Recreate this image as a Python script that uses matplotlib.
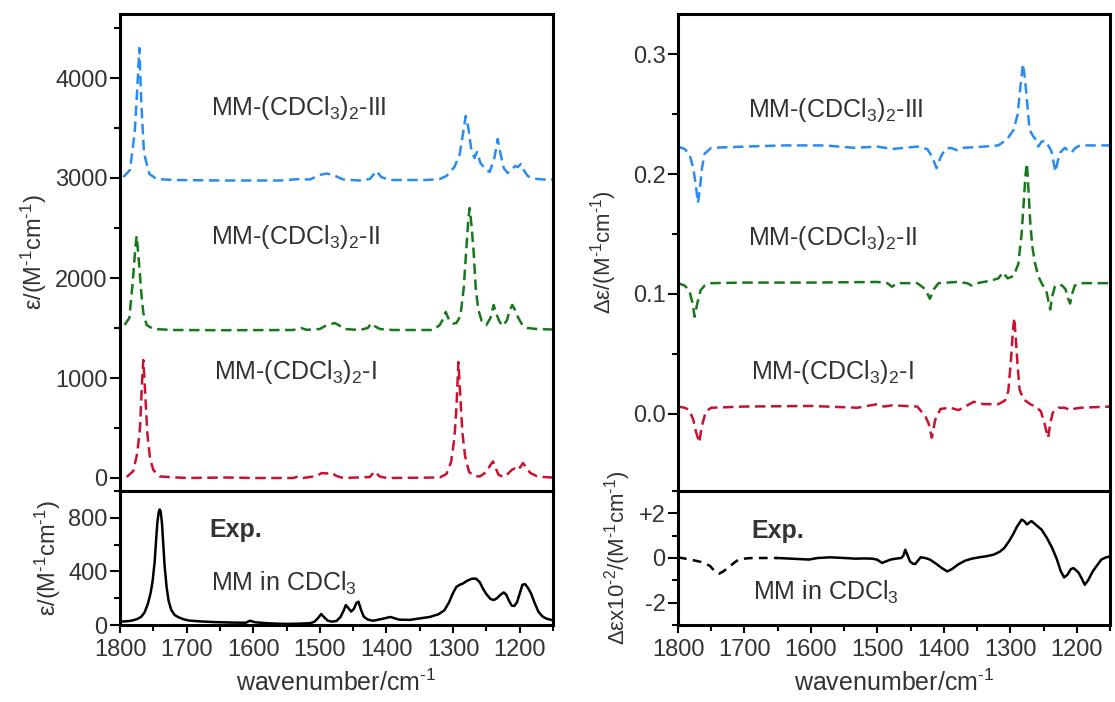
import matplotlib
matplotlib.use('Agg')
import matplotlib.pyplot as plt
from matplotlib.ticker import MultipleLocator, FixedLocator, FixedFormatter

plt.rcParams['font.family'] = ['Liberation Sans', 'DejaVu Sans']
plt.rcParams['mathtext.fontset'] = 'custom'
plt.rcParams['mathtext.rm'] = 'Liberation Sans'
plt.rcParams['mathtext.it'] = 'Liberation Sans:italic'
plt.rcParams['mathtext.bf'] = 'Liberation Sans:bold'

# ---- calculated IR spectra (offset traces, M^-1 cm^-1) ----
ir3_wn = [1795, 1785, 1778, 1774, 1771, 1768, 1764, 1756, 1745, 1720, 1650, 1560,
          1530, 1515, 1500, 1490, 1480, 1465, 1440, 1425, 1415, 1408, 1395, 1340,
          1320, 1310, 1298, 1290, 1285, 1281, 1277, 1273, 1268, 1264, 1259, 1250,
          1245, 1238, 1233, 1229, 1224, 1218, 1212, 1207, 1203, 1198, 1194, 1188,
          1180, 1165, 1150]
ir3 = [3010, 3080, 3450, 3900, 4300, 3750, 3250, 3040, 2990, 2980, 2975, 2975,
       2990, 2985, 3030, 3045, 3030, 2985, 2975, 2990, 3070, 3010, 2980, 2980,
       2990, 3020, 3110, 3240, 3450, 3620, 3500, 3300, 3200, 3260, 3150, 3080,
       3060, 3200, 3390, 3250, 3100, 3050, 3080, 3120, 3110, 3140, 3080, 3020,
       2995, 2985, 2985]

ir2_wn = [1793, 1786, 1781, 1777, 1775, 1772, 1768, 1765, 1760, 1750, 1720, 1650,
          1540, 1528, 1520, 1500, 1492, 1478, 1472, 1463, 1440, 1428, 1423, 1418,
          1410, 1390, 1330, 1320, 1315, 1311, 1306, 1300, 1295, 1289, 1284, 1280,
          1277, 1275, 1272, 1269, 1266, 1262, 1257, 1250, 1244, 1239, 1235, 1230,
          1225, 1219, 1215, 1211, 1207, 1202, 1196, 1188, 1175, 1150]
ir2 = [1530, 1600, 1950, 2300, 2420, 2200, 1850, 1650, 1530, 1490, 1480, 1478,
       1480, 1500, 1482, 1490, 1520, 1550, 1530, 1490, 1480, 1500, 1545, 1520,
       1490, 1480, 1480, 1530, 1590, 1660, 1580, 1545, 1550, 1620, 1900, 2300,
       2600, 2700, 2500, 2250, 1900, 1680, 1570, 1530, 1600, 1730, 1640, 1560,
       1520, 1580, 1680, 1730, 1680, 1600, 1530, 1500, 1490, 1485]

ir1_wn = [1790, 1780, 1774, 1770, 1767, 1765, 1763, 1759, 1755, 1750, 1740, 1700,
          1640, 1600, 1540, 1533, 1525, 1505, 1497, 1490, 1483, 1475, 1465, 1425,
          1418, 1410, 1400, 1320, 1310, 1303, 1298, 1295, 1292, 1289, 1286, 1282,
          1276, 1268, 1260, 1250, 1244, 1240, 1236, 1232, 1225, 1218, 1212, 1208,
          1204, 1199, 1195, 1190, 1184, 1175, 1165, 1150]
ir1 = [10, 70, 250, 500, 950, 1180, 950, 450, 200, 80, 15, 0,
       5, 0, 0, 15, 0, 20, 50, 45, 55, 20, 0, 10,
       65, 15, 0, 5, 40, 160, 400, 700, 1160, 800, 450, 220,
       60, 20, 15, 60, 130, 165, 100, 35, 10, 40, 80, 95,
       75, 110, 150, 100, 50, 20, 10, 5]

# ---- calculated VCD spectra (offset traces) ----
vcd3_wn = [1800, 1790, 1783, 1777, 1773, 1770, 1767, 1764, 1760, 1750, 1700, 1640,
           1580, 1535, 1500, 1478, 1440, 1425, 1418, 1411, 1405, 1398, 1390, 1380,
           1370, 1340, 1318, 1305, 1295, 1289, 1285, 1281, 1278, 1275, 1271, 1266,
           1262, 1258, 1253, 1248, 1243, 1238, 1235, 1232, 1229, 1225, 1218, 1212,
           1208, 1202, 1195, 1180, 1150]
vcd3 = [0.223, 0.221, 0.217, 0.205, 0.190, 0.176, 0.188, 0.205, 0.217, 0.222, 0.223, 0.224,
        0.224, 0.222, 0.223, 0.221, 0.223, 0.221, 0.215, 0.205, 0.214, 0.221, 0.222, 0.220,
        0.222, 0.223, 0.224, 0.229, 0.237, 0.250, 0.272, 0.292, 0.280, 0.262, 0.237, 0.232,
        0.229, 0.223, 0.227, 0.228, 0.224, 0.219, 0.210, 0.202, 0.210, 0.218, 0.222, 0.219,
        0.218, 0.222, 0.224, 0.224, 0.224]

vcd2_wn = [1800, 1790, 1783, 1778, 1775, 1771, 1766, 1760, 1750, 1700, 1600, 1500,
           1485, 1478, 1470, 1440, 1428, 1421, 1415, 1408, 1380, 1365, 1358, 1350,
           1330, 1318, 1311, 1304, 1295, 1288, 1283, 1280, 1277, 1275, 1273, 1270,
           1267, 1263, 1258, 1252, 1246, 1243, 1240, 1237, 1233, 1228, 1222, 1217,
           1213, 1210, 1207, 1203, 1195, 1150]
vcd2 = [0.109, 0.107, 0.103, 0.092, 0.081, 0.092, 0.103, 0.107, 0.109, 0.1095, 0.1095, 0.110,
        0.109, 0.106, 0.109, 0.109, 0.104, 0.096, 0.104, 0.109, 0.110, 0.109, 0.107, 0.109,
        0.111, 0.113, 0.118, 0.113, 0.115, 0.125, 0.150, 0.175, 0.200, 0.209, 0.190, 0.160,
        0.140, 0.126, 0.115, 0.108, 0.103, 0.095, 0.087, 0.098, 0.106, 0.108, 0.107, 0.104,
        0.096, 0.092, 0.100, 0.107, 0.109, 0.109]

vcd1_wn = [1800, 1790, 1783, 1777, 1773, 1768, 1764, 1758, 1750, 1700, 1600, 1530,
           1500, 1490, 1478, 1440, 1428, 1423, 1418, 1413, 1405, 1390, 1378, 1368,
           1355, 1340, 1318, 1308, 1303, 1299, 1296, 1294, 1292, 1289, 1286, 1280,
           1270, 1262, 1254, 1249, 1246, 1243, 1240, 1236, 1228, 1218, 1210, 1205,
           1195, 1150]
vcd1 = [0.006, 0.005, 0.003, -0.005, -0.015, -0.024, -0.010, 0.002, 0.005, 0.006, 0.0065, 0.005,
        0.008, 0.006, 0.007, 0.006, -0.002, -0.008, -0.020, -0.005, 0.004, 0.005, 0.003, 0.006,
        0.010, 0.008, 0.008, 0.011, 0.019, 0.045, 0.070, 0.080, 0.065, 0.040, 0.020, 0.012,
        0.008, 0.006, 0.002, -0.007, -0.014, -0.020, -0.008, 0.001, 0.005, 0.005, 0.003, 0.004,
        0.005, 0.006]

# ---- experimental spectra, MM in CDCl3 ----
exp_ir_wn = [1800, 1790, 1782, 1774, 1768, 1763, 1758, 1754, 1751, 1748, 1746, 1744,
             1742, 1740.5, 1739, 1737, 1735, 1733, 1730, 1727, 1723, 1718, 1712, 1704,
             1696, 1680, 1659, 1630, 1611, 1605, 1597, 1575, 1552, 1530, 1514, 1508,
             1503, 1498, 1493, 1488, 1482, 1475, 1469, 1464, 1461, 1457, 1453, 1449,
             1445, 1442, 1438, 1434, 1428, 1420, 1407, 1394, 1381, 1365, 1349, 1335,
             1322, 1313, 1306, 1300, 1295, 1290, 1285, 1279, 1272, 1266, 1260, 1255,
             1250, 1244, 1239, 1234, 1229, 1224, 1220, 1216, 1212, 1208, 1204, 1199,
             1196, 1192, 1188, 1183, 1178, 1172, 1166, 1161, 1156, 1151]
exp_ir = [25, 28, 33, 45, 62, 95, 161, 240, 330, 470, 620, 760,
          840, 862, 850, 760, 600, 440, 280, 180, 112, 75, 57, 42,
          33, 27, 22, 18, 17, 32, 20, 12, 8, 10, 14, 25,
          50, 82, 55, 32, 25, 30, 60, 110, 149, 125, 100, 120,
          165, 174, 110, 62, 40, 32, 45, 60, 40, 38, 50, 60,
          80, 110, 170, 240, 285, 300, 310, 330, 345, 347, 320, 270,
          230, 195, 186, 200, 225, 243, 225, 180, 145, 142, 170, 250,
          300, 305, 280, 236, 170, 100, 65, 50, 42, 37]

# region below 1650 cm-1 is reliable (solid), above it is drawn dashed
exp_vcd_wn_dash = [1800, 1781, 1765, 1752, 1744, 1738, 1733, 1725, 1717, 1709, 1698, 1688, 1651]
exp_vcd_dash = [0.03, -0.07, -0.18, -0.35, -0.62, -0.70, -0.62, -0.45, -0.25, -0.07, -0.02, 0.0, 0.0]
exp_vcd_wn = [1651, 1629, 1603, 1590, 1571, 1550, 1533, 1520, 1507, 1500, 1493, 1487,
              1480, 1470, 1464, 1461, 1458, 1455, 1451, 1447, 1443, 1439, 1435, 1428,
              1421, 1412, 1403, 1395, 1388, 1378, 1368, 1358, 1347, 1336, 1325, 1316,
              1309, 1302, 1296, 1290, 1283, 1279, 1275, 1271, 1268, 1262, 1253, 1245,
              1237, 1230, 1224, 1219, 1214, 1209, 1205, 1201, 1197, 1192, 1188, 1183,
              1176, 1170, 1163, 1156, 1149]
exp_vcd = [0.0, -0.03, -0.07, 0.0, 0.03, 0.0, -0.03, -0.02, -0.03, -0.08, -0.22, -0.15,
           -0.07, -0.02, 0.0, 0.1, 0.37, 0.15, -0.15, -0.25, -0.27, -0.12, 0.03, 0.0,
           -0.07, -0.25, -0.45, -0.60, -0.50, -0.28, -0.12, -0.03, 0.03, 0.08, 0.15, 0.28,
           0.45, 0.75, 1.05, 1.40, 1.72, 1.65, 1.50, 1.60, 1.65, 1.50, 1.27, 0.90,
           0.45, -0.05, -0.60, -0.87, -0.75, -0.50, -0.45, -0.55, -0.67, -0.95, -1.20, -1.00,
           -0.60, -0.35, -0.07, 0.03, 0.07]

BLUE = '#2a8cf0'
GREEN = '#17781a'
RED = '#c81230'
TXT = '#333333'
DASH = (0, (4.2, 2.2))
LW = 1.8

W, H = 1115, 702
fig = plt.figure(figsize=(W / 100, H / 100), dpi=100)


def rect(x0, x1, ytop, ybot):
    return [x0 / W, 1 - ybot / H, (x1 - x0) / W, (ybot - ytop) / H]


ax_ir = fig.add_axes(rect(120, 553, 14, 491))
ax_exp_ir = fig.add_axes(rect(120, 553, 491, 625))
ax_vcd = fig.add_axes(rect(678, 1110, 14, 491))
ax_exp_vcd = fig.add_axes(rect(678, 1110, 491, 625))

inv_cm = r'$^{\text{-}1}$'

for ax in (ax_ir, ax_exp_ir, ax_vcd, ax_exp_vcd):
    ax.set_xlim(1800, 1150)
    for s in ax.spines.values():
        s.set_linewidth(2.2)
    ax.xaxis.set_major_locator(MultipleLocator(100))
    ax.xaxis.set_minor_locator(MultipleLocator(50))
    ax.tick_params(axis='both', which='both', width=1.5, colors='black',
                   labelcolor=TXT, labelsize=17)
    ax.tick_params(axis='y', which='major', direction='out', length=7, pad=2)
    ax.tick_params(axis='y', which='minor', direction='out', length=4)

for ax in (ax_ir, ax_vcd):
    ax.tick_params(axis='x', which='both', direction='out', length=3.5,
                   labelbottom=False)
for ax in (ax_exp_ir, ax_exp_vcd):
    ax.tick_params(axis='x', which='major', direction='out', length=6, pad=4)
    ax.tick_params(axis='x', which='minor', direction='out', length=4)
    ax.set_xlabel('wavenumber/cm' + inv_cm, fontsize=18, color=TXT, labelpad=6)

# IR, calculated
ax_ir.plot(ir3_wn, ir3, color=BLUE, lw=LW, ls=DASH)
ax_ir.plot(ir2_wn, ir2, color=GREEN, lw=LW, ls=DASH)
ax_ir.plot(ir1_wn, ir1, color=RED, lw=LW, ls=DASH)
ax_ir.set_ylim(-130, 4640)
ax_ir.yaxis.set_major_locator(MultipleLocator(1000))
ax_ir.yaxis.set_minor_locator(MultipleLocator(500))
ax_ir.set_ylabel('ε/(M' + inv_cm + 'cm' + inv_cm + ')', fontsize=17, color=TXT,
                 labelpad=4)

lbl = dict(fontsize=18, color=TXT, ha='left', va='center')
ax_ir.text(1663, 3700, 'MM-(CDCl$_3$)$_2$-III', **lbl)
ax_ir.text(1663, 2410, 'MM-(CDCl$_3$)$_2$-II', **lbl)
ax_ir.text(1659, 1060, 'MM-(CDCl$_3$)$_2$-I', **lbl)

# IR, experimental
ax_exp_ir.plot(exp_ir_wn, exp_ir, color='black', lw=LW)
ax_exp_ir.set_ylim(0, 1000)
ax_exp_ir.yaxis.set_major_locator(MultipleLocator(400))
ax_exp_ir.yaxis.set_minor_locator(MultipleLocator(200))
ax_exp_ir.set_ylabel('ε/(M' + inv_cm + 'cm' + inv_cm + ')', fontsize=17, color=TXT,
                     labelpad=4)
ax_exp_ir.text(1666, 709, 'Exp.', fontsize=18, fontweight='bold', color=TXT,
               ha='left', va='center')
ax_exp_ir.text(1663, 313, 'MM in CDCl$_3$', **lbl)

# VCD, calculated
ax_vcd.plot(vcd3_wn, vcd3, color=BLUE, lw=LW, ls=DASH)
ax_vcd.plot(vcd2_wn, vcd2, color=GREEN, lw=LW, ls=DASH)
ax_vcd.plot(vcd1_wn, vcd1, color=RED, lw=LW, ls=DASH)
ax_vcd.set_ylim(-0.0645, 0.3337)
ax_vcd.yaxis.set_major_locator(FixedLocator([0.0, 0.1, 0.2, 0.3]))
ax_vcd.yaxis.set_major_formatter(FixedFormatter(['0.0', '0.1', '0.2', '0.3']))
ax_vcd.yaxis.set_minor_locator(FixedLocator([0.05, 0.15, 0.25]))
ax_vcd.set_ylabel('Δε/(M' + inv_cm + 'cm' + inv_cm + ')', fontsize=16, color=TXT,
                  labelpad=10)
ax_vcd.text(1695, 0.2535, 'MM-(CDCl$_3$)$_2$-III', **lbl)
ax_vcd.text(1695, 0.1467, 'MM-(CDCl$_3$)$_2$-II', **lbl)
ax_vcd.text(1690, 0.0348, 'MM-(CDCl$_3$)$_2$-I', **lbl)

# VCD, experimental
ax_exp_vcd.plot(exp_vcd_wn_dash, exp_vcd_dash, color='black', lw=LW, ls=(0, (3.5, 2.5)))
ax_exp_vcd.plot(exp_vcd_wn, exp_vcd, color='black', lw=LW)
ax_exp_vcd.set_ylim(-3, 3)
ax_exp_vcd.yaxis.set_major_locator(FixedLocator([-2, 0, 2]))
ax_exp_vcd.yaxis.set_major_formatter(FixedFormatter(['-2', '0', '+2']))
ax_exp_vcd.yaxis.set_minor_locator(FixedLocator([-3, -1, 1, 3]))
ax_exp_vcd.set_ylabel('Δεx10$^{\\text{-}2}$/(M' + inv_cm + 'cm' + inv_cm + ')',
                      fontsize=16, color=TXT, labelpad=4)
ax_exp_vcd.text(1690, 1.2, 'Exp.', fontsize=18, fontweight='bold', color=TXT,
                ha='left', va='center')
ax_exp_vcd.text(1687, -1.56, 'MM in CDCl$_3$', **lbl)

fig.savefig('out.png', dpi=100)
